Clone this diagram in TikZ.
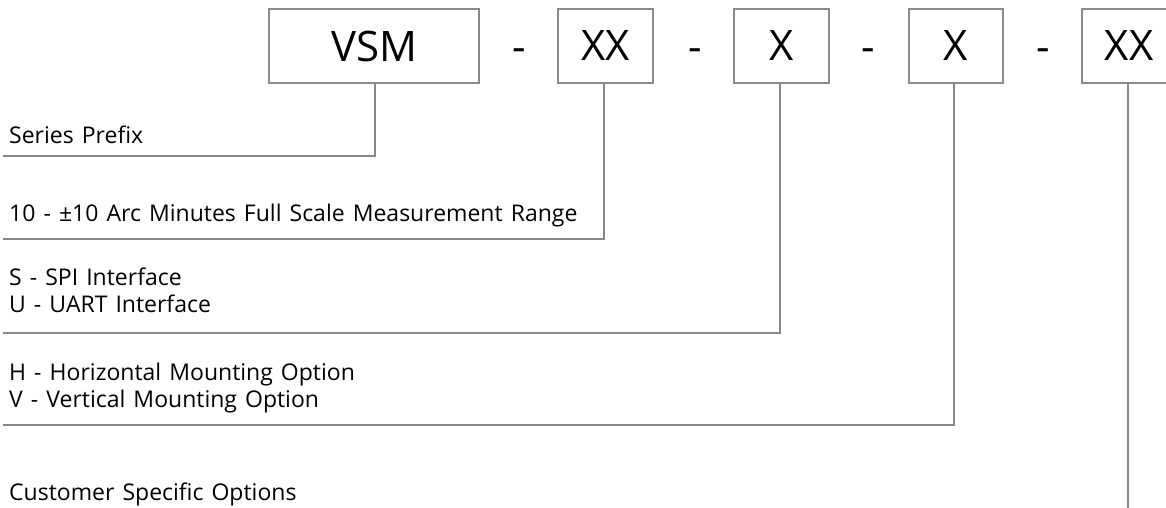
\documentclass[tikz,border=0pt]{standalone}
\usepackage{fontspec}
\setmainfont{Open Sans}
\newfontfamily\lblfont{Open Sans}[WordSpace=1.35]
\definecolor{linegray}{HTML}{888888}
\definecolor{boxgray}{HTML}{8A8A8A}
\begin{document}
\begin{tikzpicture}[x=1pt,y=-1pt,
  box/.style={draw=boxgray, line width=1.3pt, minimum height=74pt, inner sep=0pt, font=\fontsize{42}{50}\selectfont},
  lbl/.style={anchor=base west, inner sep=0pt, font=\lblfont\fontsize{23}{28}\selectfont},
  sep/.style={anchor=base, inner sep=0pt, font=\fontsize{42}{50}\selectfont},
  conn/.style={draw=linegray, line width=2pt}]
\useasboundingbox (0,0) rectangle (1166,508);
% boxes
\node[box, minimum width=210pt] (vsm) at (374,46) {VSM};
\node[box, minimum width=95pt] (rng) at (605.5,46) {XX};
\node[box, minimum width=95pt] (ifc) at (781.5,46) {X};
\node[box, minimum width=94pt] (mnt) at (956,46) {X};
\node[box, minimum width=94pt] (cus) at (1129,46) {XX};
% separators
\node[sep] (d1) at (519,62) {-};
\node[sep] (d2) at (695,62) {-};
\node[sep] (d3) at (868,62) {-};
\node[sep] (d4) at (1043,62) {-};
% labels
\node[lbl] (l1) at (9,143) {Series Prefix};
\node[lbl] (l2) at (9,221) {10 - ±10 Arc Minutes Full Scale Measurement Range};
\node[lbl] (l3a) at (9,285) {S - SPI Interface};
\node[lbl] (l3b) at (9,312) {U - UART Interface};
\node[lbl] (l4a) at (9,380) {H - Horizontal Mounting Option};
\node[lbl] (l4b) at (9,407) {V - Vertical Mounting Option};
\node[lbl] (l5) at (9,500) {Customer Specific Options};
% connector ends
\coordinate (e1) at (3,156);
\coordinate (e2) at (3,239);
\coordinate (e3) at (3,333);
\coordinate (e4) at (3,425);
\coordinate (e5) at (1128,508);
% connectors
\draw[conn] ([xshift=1pt]vsm.south) |- (e1);
\draw[conn] ([xshift=-2pt]rng.south) |- (e2);
\draw[conn] ([xshift=-2pt]ifc.south) |- (e3);
\draw[conn] ([xshift=-2pt]mnt.south) |- (e4);
\draw[conn] ([xshift=-1pt]cus.south) -- (e5);
\end{tikzpicture}
\end{document}
